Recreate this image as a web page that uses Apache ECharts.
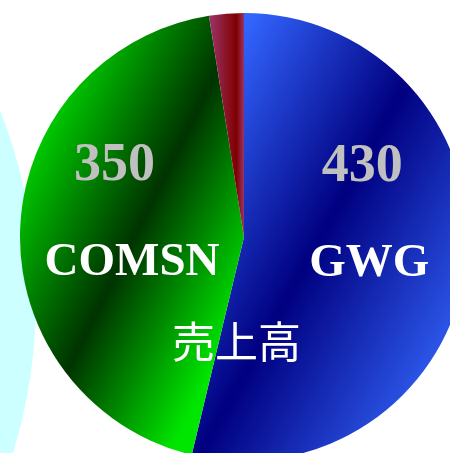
<!DOCTYPE html>
<html>
<head>
<meta charset="utf-8">
<script src="https://cdn.jsdelivr.net/npm/echarts@6/dist/echarts.min.js"></script>
<style>
html,body{margin:0;padding:0;background:#fff;}
#chart{width:450px;height:453px;}
</style>
</head>
<body>
<div id="chart"></div>
<script>
// ---- data ----
var categories = ['GWG', 'COMSN', 'その他'];
var values = [430, 350, 20];
var seriesName = '売上高';
var sideCategories = ['他系列'];
var sideValues = [1];

// ---- styles (kept separate from data) ----
function lg(x, y, x2, y2, stops) {
  return new echarts.graphic.LinearGradient(x, y, x2, y2, stops.map(function (s) {
    return { offset: s[0], color: s[1] };
  }), true);
}
var sliceColors = [
  lg(174, 150, 472, 316, [[0, '#3366ff'], [0.5, '#000080'], [1, '#2f5cf0']]),
  lg(24, 167, 256, 283, [[0, '#00cc00'], [0.5, '#003300'], [1, '#00e600']]),
  lg(210, 0, 244, 0, [[0, '#993366'], [0.78, '#800000'], [1, '#993366']])
];
var labelOffsets = [[11, -35], [3, -18], [0, 0]];
var numPad = [14, 35, 0];

var chart = echarts.init(document.getElementById('chart'), null, { renderer: 'canvas' });

var mainData = categories.map(function (name, i) {
  var item = {
    name: name,
    value: values[i],
    itemStyle: { color: sliceColors[i] },
    label: {
      show: i < 2,
      offset: labelOffsets[i],
      rich: {
        v: {
          fontFamily: 'Liberation Serif', fontWeight: 'bold', fontSize: 54,
          color: '#c0c0c0', lineHeight: 96, padding: [0, numPad[i], 0, 0]
        },
        n: {
          fontFamily: 'Liberation Serif', fontWeight: 'bold', fontSize: 47,
          color: '#ffffff', lineHeight: 96
        }
      }
    }
  };
  return item;
});

chart.setOption({
  animation: false,
  backgroundColor: '#ffffff',
  title: {
    text: seriesName,
    left: 172,
    top: 320,
    padding: 0,
    textStyle: {
      fontFamily: 'Noto Sans CJK JP', fontWeight: 'normal', fontSize: 43, color: '#ffffff'
    }
  },
  series: [
    {
      type: 'pie',
      name: 'side',
      center: [-484, 300],
      radius: 520,
      silent: true,
      label: { show: false },
      labelLine: { show: false },
      itemStyle: { color: '#ccffff' },
      data: sideCategories.map(function (n, i) { return { name: n, value: sideValues[i] }; })
    },
    {
      type: 'pie',
      name: seriesName,
      center: [244, 237],
      radius: 224,
      startAngle: 90,
      clockwise: true,
      avoidLabelOverlap: false,
      label: {
        show: true,
        position: 'inner',
        formatter: function (p) { return '{v|' + p.value + '}\n{n|' + p.name + '}'; }
      },
      labelLine: { show: false },
      data: mainData
    }
  ]
});
</script>
</body>
</html>
